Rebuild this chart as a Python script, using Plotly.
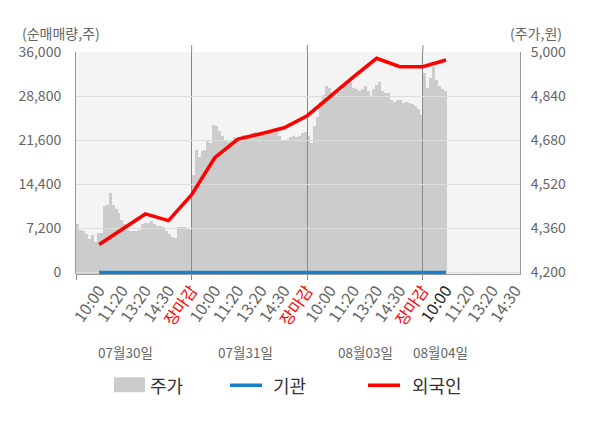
import plotly.graph_objects as go
import numpy as np

# ---------------- data ----------------
dates = ["07월30일", "07월31일", "08월03일", "08월04일"]
time_labels = ["10:00", "11:20", "13:20", "14:30", "장마감"]

# 주가 (price, won) sampled through each trading day
price_day1 = [4375, 4355, 4350, 4340, 4320, 4335, 4310, 4345, 4345, 4440,
              4445, 4490, 4445, 4430, 4415, 4390, 4375, 4355, 4350, 4350,
              4350, 4355, 4375, 4380, 4380, 4385, 4375, 4370, 4370, 4365,
              4350, 4340, 4330, 4325, 4365, 4365, 4365, 4360, 4355]
price_day2 = [4555, 4645, 4620, 4640, 4645, 4680, 4670, 4735, 4730, 4715,
              4695, 4680, 4675, 4680, 4690, 4685, 4690, 4700, 4695, 4700,
              4705, 4710, 4705, 4705, 4700, 4705, 4710, 4705, 4710, 4695,
              4680, 4680, 4685, 4690, 4695, 4690, 4695, 4705, 4710]
price_day3 = [4695, 4670, 4730, 4765, 4820, 4845, 4875, 4870, 4850, 4840,
              4855, 4860, 4875, 4880, 4890, 4870, 4865, 4860, 4865, 4875,
              4860, 4835, 4865, 4880, 4890, 4860, 4850, 4850, 4825, 4820,
              4825, 4825, 4815, 4820, 4815, 4810, 4805, 4795, 4770]
price_day4 = [4925, 4870, 4905, 4945, 4900, 4875, 4865, 4860]

# 순매매량 (net trading volume, shares) at each time label
foreign = [4560, 7100, 9560, 8470, 12700, 18730, 21780, 22660, 23620, 25600,
           28830, 31930, 34970, 33610, 33610, 34700]
institution = [0, 0, 0, 0, 0, 0, 0, 0, 0, 0, 0, 0, 0, 0, 0, 0]

# ---------------- layout constants ----------------
SLOTS_PER_DAY = 5
SAMPLES_PER_DAY = 39
X_MAX = 19.2
FONT = "Noto Sans CJK KR"
PAGE_OFF = 8                      # default body margin of the html page
L, R, T, B = 76, 520, 52, 274.5   # plot area in page pixels
W, H = R - L, B - T


def px(p):
    return (p - L) / W


def py(p):
    return (B - p) / H


# price bars positions
days = [price_day1, price_day2, price_day3, price_day4]
step = SLOTS_PER_DAY / SAMPLES_PER_DAY
bx, by = [], []
for d, vals in enumerate(days):
    for i, v in enumerate(vals):
        bx.append(d * SLOTS_PER_DAY + (i + 0.5) * step)
        by.append(v)

line_x = np.arange(1, len(foreign) + 1)

# tick labels
tick_texts = []
for d in range(len(dates)):
    labs = time_labels if d < len(dates) - 1 else time_labels[:4]
    for j, t in enumerate(labs):
        if t == "장마감":
            tick_texts.append('<span style="color:#ff0000">%s</span>' % t)
        elif d == len(dates) - 1 and j == 0:
            tick_texts.append('<span style="color:#222222">%s</span>' % t)
        else:
            tick_texts.append(t)
tick_vals = list(range(1, len(tick_texts) + 1))

fig = go.Figure()
fig.add_trace(go.Bar(x=bx, y=by, width=step, marker=dict(color="#cccccc", line=dict(width=0)),
                     xaxis="x", yaxis="y", name="주가", showlegend=False))
fig.add_trace(go.Scatter(x=line_x, y=institution, mode="lines", line=dict(color="#1580cc", width=3.5),
                         xaxis="x2", yaxis="y2", name="기관", showlegend=False))
fig.add_trace(go.Scatter(x=line_x, y=foreign, mode="lines", line=dict(color="#ff0000", width=3.5),
                         xaxis="x2", yaxis="y2", name="외국인", showlegend=False))

vol_min = -250
vol_max = 36000
p_min, p_max = 4200, 5000
p_low = p_min + vol_min / vol_max * (p_max - p_min)

fig.update_layout(
    width=600 - PAGE_OFF, height=428 - PAGE_OFF,
    margin=dict(l=L - PAGE_OFF, r=600 - R, t=T - PAGE_OFF, b=428 - B, pad=0, autoexpand=False),
    paper_bgcolor="white", plot_bgcolor="rgba(0,0,0,0)",
    font=dict(family=FONT, size=14, color="#666666"),
    bargap=0,
    xaxis=dict(domain=[0, 1], range=[0, X_MAX], anchor="y", tickvals=tick_vals, ticktext=tick_texts,
               tickangle=-55, tickfont=dict(size=16, color="#666666"), ticks="", showgrid=False,
               showline=True, linecolor="#999999", linewidth=1, zeroline=False, automargin=False),
    yaxis=dict(domain=[0, 1], range=[p_low, p_max], side="right", anchor="x", tick0=p_min, dtick=160,
               tickformat=",", showgrid=False, zeroline=False, showline=True, linecolor="#999999",
               ticks="", ticklabelstandoff=7, tickfont=dict(size=14, color="#666666"), automargin=False),
    xaxis2=dict(domain=[0, 1], range=[0, X_MAX], anchor="y2", tickvals=[0, 5, 10, 15],
                showticklabels=False, ticks="outside", ticklen=5, tickcolor="#888888",
                showgrid=True, gridcolor="#888888", gridwidth=1, zeroline=False, showline=False,
                automargin=False),
    yaxis2=dict(domain=[0, 1], range=[vol_min, vol_max], side="left", anchor="x2", tick0=0, dtick=7200,
                tickformat=",", showgrid=True, gridcolor="#dddddd", gridwidth=1, zeroline=False,
                showline=True, linecolor="#999999", ticks="", ticklabelstandoff=11,
                tickfont=dict(size=14, color="#666666"), automargin=False),
)

shapes = []
# plot background below everything
shapes.append(dict(type="rect", xref="paper", yref="paper", x0=0, x1=1, y0=0, y1=1, layer="below",
                   fillcolor="#f4f4f4", line=dict(width=0)))
for v in [5, 10, 15]:
    shapes.append(dict(type="line", xref="x2", yref="paper", x0=v, x1=v, y0=1, y1=py(45),
                       line=dict(color="#888888", width=1)))
# legend marks
shapes.append(dict(type="rect", xref="paper", yref="paper", x0=px(114), x1=px(145), y0=py(393), y1=py(378),
                   fillcolor="#cccccc", line=dict(width=0)))
shapes.append(dict(type="line", xref="paper", yref="paper", x0=px(230), x1=px(262), y0=py(386), y1=py(386),
                   line=dict(color="#1580cc", width=3.5)))
shapes.append(dict(type="line", xref="paper", yref="paper", x0=px(368), x1=px(400), y0=py(386), y1=py(386),
                   line=dict(color="#ff0000", width=3.5)))
fig.update_layout(shapes=shapes)

ann = []
ann.append(dict(text="(순매매량,주)", xref="paper", yref="paper", x=px(61), y=py(33), showarrow=False,
                xanchor="center", yanchor="middle", font=dict(size=14, color="#666666")))
ann.append(dict(text="(주가,원)", xref="paper", yref="paper", x=px(535.5), y=py(33), showarrow=False,
                xanchor="center", yanchor="middle", font=dict(size=14, color="#666666")))
for d, cx in zip(dates, [125, 245, 365, 440.5]):
    ann.append(dict(text=d, xref="paper", yref="paper", x=px(cx), y=py(353), showarrow=False,
                    xanchor="center", yanchor="middle", font=dict(size=13.5, color="#666666")))
for name, lx in zip(["주가", "기관", "외국인"], [148, 271, 410]):
    ann.append(dict(text=name, xref="paper", yref="paper", x=px(lx), y=py(386), showarrow=False,
                    xanchor="left", yanchor="middle", font=dict(size=18, color="#333333")))
fig.update_layout(annotations=ann)

fig.write_html("out.html")
